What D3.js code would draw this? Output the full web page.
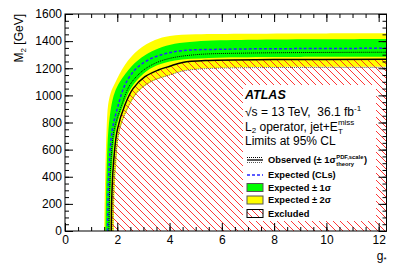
<!DOCTYPE html>
<html lang="en">
<head>
<meta charset="utf-8">
<title>M2 vs g* limits</title>
<script src="https://cdn.jsdelivr.net/npm/d3@7"></script>
<style>
  body { margin: 0; background: #fff; }
  svg { font-family: "Liberation Sans", Arial, Helvetica, sans-serif; }
  .tick text { font-size: 12px; fill: #000; }
  .tick line { stroke: #000; }
</style>
</head>
<body>
<script>
// Contours: [g*, M2 in GeV]
var yellowUp = [[1.50,0],[1.52,250],[1.55,490],[1.59,745],[1.65,930],[1.75,1020],[1.91,1090],[2.29,1224],[2.80,1334],[3.44,1408],[4.01,1438],[5,1450],[7,1455],[10,1457],[12.3,1458]];
var greenUp = [[1.55,0],[1.57,250],[1.60,490],[1.66,745],[1.78,930],[1.90,1020],[2.10,1100],[2.55,1215],[3.06,1295],[3.57,1345],[4.2,1380],[5,1398],[7,1410],[10,1414],[12.3,1416]];
var expected = [[1.63,0],[1.65,250],[1.69,487],[1.81,745],[2.04,929],[2.29,1076],[2.67,1187],[3.18,1261],[3.8,1305],[4.5,1330],[6,1340],[9,1345],[12.3,1347]];
var obsUp = [[1.68,0],[1.70,250],[1.75,487],[1.88,745],[2.17,929],[2.48,1076],[2.93,1175],[3.44,1236],[4.01,1273],[5,1300],[7,1312],[12.3,1318]];
var greenDown = [[1.72,0],[1.74,250],[1.80,487],[1.94,745],[2.23,929],[2.55,1060],[3.0,1160],[3.5,1220],[4.2,1258],[5.5,1276],[8,1283],[12.3,1285]];
var observed = [[1.77,0],[1.79,250],[1.85,487],[2.0,745],[2.29,929],[2.61,1052],[3.06,1138],[3.57,1187],[4.01,1215],[4.5,1243],[5.5,1258],[8,1264],[12.3,1266]];
var obsDown = [[1.83,0],[1.85,250],[1.92,487],[2.08,745],[2.45,929],[2.78,1027],[3.28,1101],[4.0,1150],[4.6,1183],[5.5,1198],[7,1204],[12.3,1206]];
var yellowDown = [[1.87,0],[1.89,250],[1.96,487],[2.10,745],[2.48,929],[2.80,1027],[3.31,1101],[4.01,1150],[4.6,1185],[5.5,1200],[7,1208],[12.3,1211]];

var xTicks = [0, 2, 4, 6, 8, 10, 12];
var yTicks = [0, 200, 400, 600, 800, 1000, 1200, 1400, 1600];

var w = 407, h = 276;
var pL = 65, pR = 386.5, pT = 14, pB = 231;

var svg = d3.select("body").append("svg")
    .attr("width", w)
    .attr("height", h);

var x = d3.scaleLinear().domain([0, 12.3]).range([pL, pR]);
var y = d3.scaleLinear().domain([0, 1600]).range([pB, pT]);

var defs = svg.append("defs");
defs.append("clipPath").attr("id", "plotclip")
    .append("rect")
    .attr("x", pL).attr("y", pT)
    .attr("width", pR - pL).attr("height", pB - pT);

// red hatch, lines going down to the right
var pat = defs.append("pattern")
    .attr("id", "hatch")
    .attr("patternUnits", "userSpaceOnUse")
    .attr("width", 7).attr("height", 7);
pat.append("path")
    .attr("d", "M0,0L7,7M-1,6L1,8M6,-1L8,1")
    .attr("stroke", "#ff2020")
    .attr("stroke-width", 0.9);

var line = d3.line()
    .x(function(d) { return x(d[0]); })
    .y(function(d) { return y(d[1]); })
    .curve(d3.curveCatmullRom.alpha(0.5));

// band between two contours: upper forward, lower backward
function band(upper, lower) {
    var a = line(upper);
    var b = line(lower.slice().reverse());
    return a + "L" + b.substring(1) + "Z";
}

var plot = svg.append("g").attr("clip-path", "url(#plotclip)");

plot.append("path").attr("d", band(yellowUp, yellowDown)).attr("fill", "#ffff00");
plot.append("path").attr("d", band(greenUp, greenDown)).attr("fill", "#00ff00");

// excluded region below observed
var last = observed[observed.length - 1];
plot.append("path")
    .attr("d", line(observed) + "L" + x(last[0]) + "," + y(0) + "Z")
    .attr("fill", "url(#hatch)");

plot.append("path").attr("d", line(expected))
    .attr("fill", "none").attr("stroke", "#2626ff")
    .attr("stroke-width", 1.5).attr("stroke-dasharray", "3,2");
plot.append("path").attr("d", line(obsUp))
    .attr("fill", "none").attr("stroke", "#000")
    .attr("stroke-width", 1).attr("stroke-dasharray", "1,1");
plot.append("path").attr("d", line(obsDown))
    .attr("fill", "none").attr("stroke", "#555")
    .attr("stroke-width", 1).attr("stroke-dasharray", "1,1");
plot.append("path").attr("d", line(observed))
    .attr("fill", "none").attr("stroke", "#000")
    .attr("stroke-width", 1.5);

// white legend area
svg.append("rect")
    .attr("x", 243).attr("y", 85)
    .attr("width", 133).attr("height", 136)
    .attr("fill", "#fff");

// axes, ROOT style ticks pointing inwards
function minor(step, max) { return d3.range(0, max + 1e-9, step); }
function noDomain(g) { g.select(".domain").remove(); }

svg.append("g").attr("transform", "translate(0," + pB + ")")
    .call(d3.axisBottom(x).tickValues(minor(0.5, 12.3)).tickSize(-4).tickFormat(""))
    .call(noDomain);
svg.append("g").attr("transform", "translate(0," + pB + ")")
    .call(d3.axisBottom(x).tickValues(xTicks).tickSize(-8).tickPadding(4).tickFormat(d3.format("d")))
    .call(noDomain);
svg.append("g").attr("transform", "translate(0," + pT + ")")
    .call(d3.axisTop(x).tickValues(minor(0.5, 12.3)).tickSize(-4).tickFormat(""))
    .call(noDomain);
svg.append("g").attr("transform", "translate(0," + pT + ")")
    .call(d3.axisTop(x).tickValues(xTicks).tickSize(-8).tickFormat(""))
    .call(noDomain);

svg.append("g").attr("transform", "translate(" + pL + ",0)")
    .call(d3.axisLeft(y).tickValues(minor(50, 1600)).tickSize(-4).tickFormat(""))
    .call(noDomain);
svg.append("g").attr("transform", "translate(" + pL + ",0)")
    .call(d3.axisLeft(y).tickValues(yTicks).tickSize(-8).tickPadding(3).tickFormat(d3.format("d")))
    .call(noDomain);
svg.append("g").attr("transform", "translate(" + pR + ",0)")
    .call(d3.axisRight(y).tickValues(minor(50, 1600)).tickSize(-4).tickFormat(""))
    .call(noDomain);
svg.append("g").attr("transform", "translate(" + pR + ",0)")
    .call(d3.axisRight(y).tickValues(yTicks).tickSize(-8).tickFormat(""))
    .call(noDomain);

svg.append("rect")
    .attr("x", pL).attr("y", pT)
    .attr("width", pR - pL).attr("height", pB - pT)
    .attr("fill", "none").attr("stroke", "#000").attr("stroke-width", 1);

// axis titles
var yt = svg.append("text")
    .attr("transform", "translate(23," + pT + ") rotate(-90)")
    .attr("text-anchor", "end")
    .attr("font-size", 12);
yt.append("tspan").text("M");
yt.append("tspan").attr("font-size", 8).attr("dy", 3).text("2");
yt.append("tspan").attr("dy", -3).text(" [GeV]");

var xt = svg.append("text")
    .attr("x", pR).attr("y", 260)
    .attr("text-anchor", "end")
    .attr("font-size", 12);
xt.append("tspan").text("g");
xt.append("tspan").attr("font-size", 8).attr("dy", 2).text("*");

// labels
svg.append("text").attr("x", 245).attr("y", 98.5)
    .attr("font-size", 12.5).attr("font-weight", "bold").attr("font-style", "italic")
    .text("ATLAS");

var t1 = svg.append("text").attr("x", 245).attr("y", 116).attr("font-size", 12);
t1.append("tspan").text("\u221As = 13 TeV,\u00A0\u00A036.1 fb");
t1.append("tspan").attr("font-size", 8).attr("dy", -5).text("-1");

var t2 = svg.append("text").attr("x", 245).attr("y", 130.5).attr("font-size", 12);
t2.append("tspan").text("L");
t2.append("tspan").attr("font-size", 8).attr("dy", 2.5).text("2");
t2.append("tspan").attr("dy", -2.5).text(" operator, jet+E");
var t2end = t2.node().getComputedTextLength();
svg.append("text").attr("x", 245 + t2end).attr("y", 124.5).attr("font-size", 8).text("miss");
svg.append("text").attr("x", 245 + t2end).attr("y", 133.5).attr("font-size", 8).text("T");

svg.append("text").attr("x", 245).attr("y", 144.5).attr("font-size", 12)
    .text("Limits at 95% CL");

// legend
var lx = 247, lw = 16, tx = 268, fs = 9.3;
var rows = [160, 175, 187.5, 200, 213.5];

// observed symbol
svg.append("line").attr("x1", lx).attr("x2", lx + lw).attr("y1", rows[0] - 2.5).attr("y2", rows[0] - 2.5)
    .attr("stroke", "#000").attr("stroke-dasharray", "1,1");
svg.append("line").attr("x1", lx).attr("x2", lx + lw).attr("y1", rows[0]).attr("y2", rows[0])
    .attr("stroke", "#000").attr("stroke-width", 1.3);
svg.append("line").attr("x1", lx).attr("x2", lx + lw).attr("y1", rows[0] + 2.5).attr("y2", rows[0] + 2.5)
    .attr("stroke", "#555").attr("stroke-dasharray", "1,1");
var o = svg.append("text").attr("x", tx).attr("y", rows[0] + 3.3)
    .attr("font-size", fs).attr("font-weight", "bold");
o.append("tspan").text("Observed (\u00B1 1\u03C3");
var oEnd = tx + o.node().getComputedTextLength() + 0.5;
var sup = svg.append("text").attr("x", oEnd).attr("y", rows[0] - 1.5)
    .attr("font-size", 5.8).attr("font-weight", "bold").text("PDF,scale");
svg.append("text").attr("x", oEnd).attr("y", rows[0] + 6.3)
    .attr("font-size", 5.8).attr("font-weight", "bold").text("theory");
svg.append("text").attr("x", oEnd + sup.node().getComputedTextLength() + 0.5).attr("y", rows[0] + 3.3)
    .attr("font-size", fs).attr("font-weight", "bold").text(")");

// expected symbol
svg.append("line").attr("x1", lx).attr("x2", lx + lw).attr("y1", rows[1]).attr("y2", rows[1])
    .attr("stroke", "#2626ff").attr("stroke-width", 1.5).attr("stroke-dasharray", "3,2");
svg.append("text").attr("x", tx).attr("y", rows[1] + 3.3)
    .attr("font-size", fs).attr("font-weight", "bold")
    .text("Expected (CLs)");

var boxes = [
    { row: rows[2], fill: "#00ff00", label: "Expected \u00B1 1\u03C3" },
    { row: rows[3], fill: "#ffff00", label: "Expected \u00B1 2\u03C3" },
    { row: rows[4], fill: "url(#hatch)", label: "Excluded" }
];
boxes.forEach(function(b) {
    svg.append("rect")
        .attr("x", lx).attr("y", b.row - 4)
        .attr("width", lw).attr("height", 8)
        .attr("fill", b.fill)
        .attr("stroke", b.fill === "url(#hatch)" ? "#000" : "#555")
        .attr("stroke-width", 1);
    svg.append("text").attr("x", tx).attr("y", b.row + 3.3)
        .attr("font-size", fs).attr("font-weight", "bold")
        .text(b.label);
});
</script>
</body>
</html>
